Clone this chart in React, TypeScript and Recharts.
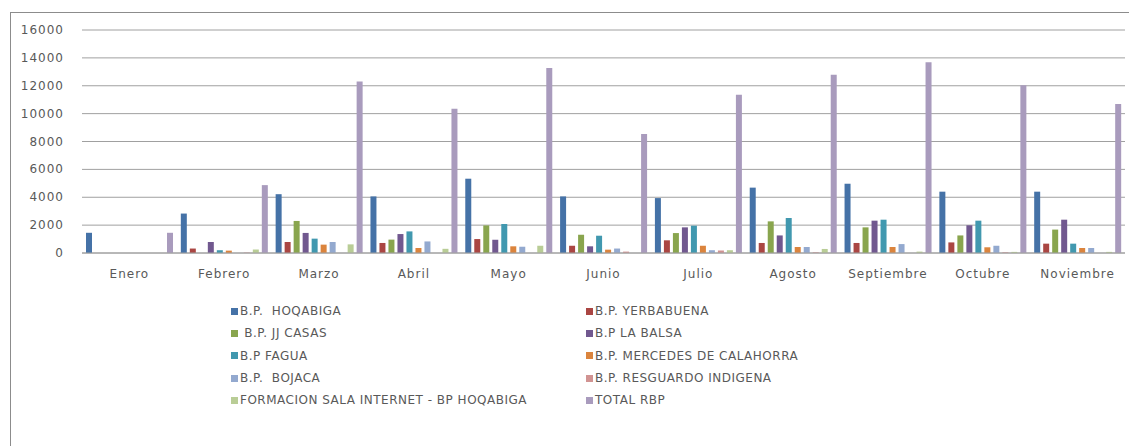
import { BarChart, Bar, XAxis, YAxis, CartesianGrid, Legend } from "recharts";

const months = ["Enero", "Febrero", "Marzo", "Abril", "Mayo", "Junio", "Julio", "Agosto", "Septiembre", "Octubre", "Noviembre"];

const hoqabiga = [1450, 2830, 4220, 4060, 5330, 4060, 3940, 4690, 4970, 4400, 4400];
const yerbabuena = [0, 320, 790, 720, 1000, 520, 910, 720, 720, 760, 670];
const jjCasas = [0, 0, 2300, 960, 1980, 1310, 1430, 2270, 1840, 1260, 1680];
const laBalsa = [0, 790, 1440, 1360, 950, 480, 1840, 1260, 2320, 1990, 2390];
const fagua = [0, 200, 1030, 1550, 2080, 1240, 1960, 2510, 2390, 2320, 670];
const mercedes = [0, 170, 600, 360, 480, 240, 520, 430, 430, 410, 360];
const bojaca = [0, 0, 790, 830, 450, 320, 200, 430, 640, 520, 360];
const resguardo = [0, 30, 0, 0, 0, 100, 180, 50, 0, 50, 0];
const formacion = [0, 250, 620, 300, 520, 0, 200, 290, 100, 80, 80];
const totalRbp = [1450, 4870, 12310, 10350, 13270, 8540, 11360, 12790, 13680, 12030, 10690];

const yTicks = [0, 2000, 4000, 6000, 8000, 10000, 12000, 14000, 16000];

const series = [
  { key: "hoqabiga", name: "B.P.  HOQABIGA", color: "#4572A7", values: hoqabiga },
  { key: "yerbabuena", name: "B.P. YERBABUENA", color: "#AA4643", values: yerbabuena },
  { key: "jjCasas", name: " B.P. JJ CASAS", color: "#89A54E", values: jjCasas },
  { key: "laBalsa", name: "B.P LA BALSA", color: "#71588F", values: laBalsa },
  { key: "fagua", name: "B.P FAGUA", color: "#4198AF", values: fagua },
  { key: "mercedes", name: "B.P. MERCEDES DE CALAHORRA", color: "#DB843D", values: mercedes },
  { key: "bojaca", name: "B.P.  BOJACA", color: "#93A9CF", values: bojaca },
  { key: "resguardo", name: "B.P. RESGUARDO INDIGENA", color: "#D19392", values: resguardo },
  { key: "formacion", name: "FORMACION SALA INTERNET - BP HOQABIGA", color: "#B9CD96", values: formacion },
  { key: "totalRbp", name: "TOTAL RBP", color: "#A99BBD", values: totalRbp },
];

const data = months.map((m, i) => {
  const row: Record<string, string | number> = { month: m };
  series.forEach((s) => (row[s.key] = s.values[i]));
  return row;
});

const FONT = "'DejaVu Sans', sans-serif";
const TEXT = "#595959";

function XTick({ x, y, payload }: any) {
  return (
    <text x={x} y={y + 17} textAnchor="middle" fontFamily={FONT} fontSize={12} letterSpacing={1} fill={TEXT}>
      {payload.value}
    </text>
  );
}

function YTick({ x, y, payload }: any) {
  return (
    <text x={x - 10} y={y + 4} textAnchor="end" fontFamily={FONT} fontSize={12} letterSpacing={1} fill={TEXT}>
      {payload.value}
    </text>
  );
}

function LegendBox() {
  return (
    <div style={{ display: "grid", gridTemplateColumns: "355px 300px", fontFamily: FONT, fontSize: 12, letterSpacing: 0.5, color: TEXT }}>
      {series.map((s) => (
        <div key={s.key} style={{ height: 22.3, display: "flex", alignItems: "center", whiteSpace: "pre" }}>
          <span style={{ width: 7, height: 7, background: s.color, flex: "none", marginRight: 2 }} />
          <span style={{ lineHeight: "14px" }}>{s.name}</span>
        </div>
      ))}
    </div>
  );
}

export default function App() {
  return (
    <div style={{ position: "absolute", left: 0, top: 0, width: 1129, height: 446, overflow: "hidden", background: "#fff" }}>
      <div style={{ position: "absolute", left: 10, top: 12, width: 1300, height: 600, border: "1px solid #8c8c8c" }} />
      <BarChart
        width={1129}
        height={446}
        data={data}
        margin={{ top: 30, right: 4, bottom: 163, left: 10 }}
        barCategoryGap={4}
        barGap={3}
      >
        <CartesianGrid vertical={false} stroke="#a0a0a0" />
        <XAxis dataKey="month" height={30} tick={<XTick />} tickLine={false} axisLine={{ stroke: "#a0a0a0" }} interval={0} />
        <YAxis width={72} domain={[0, 16000]} ticks={yTicks} tick={<YTick />} tickLine={false} axisLine={false} />
        <Legend
          layout="horizontal"
          verticalAlign="middle"
          align="center"
          content={() => <LegendBox />}
          wrapperStyle={{ left: 231, top: 300, width: 680, height: 115 }}
        />
        {series.map((s) => (
          <Bar key={s.key} dataKey={s.key} name={s.name} fill={s.color} isAnimationActive={false} />
        ))}
      </BarChart>
    </div>
  );
}
